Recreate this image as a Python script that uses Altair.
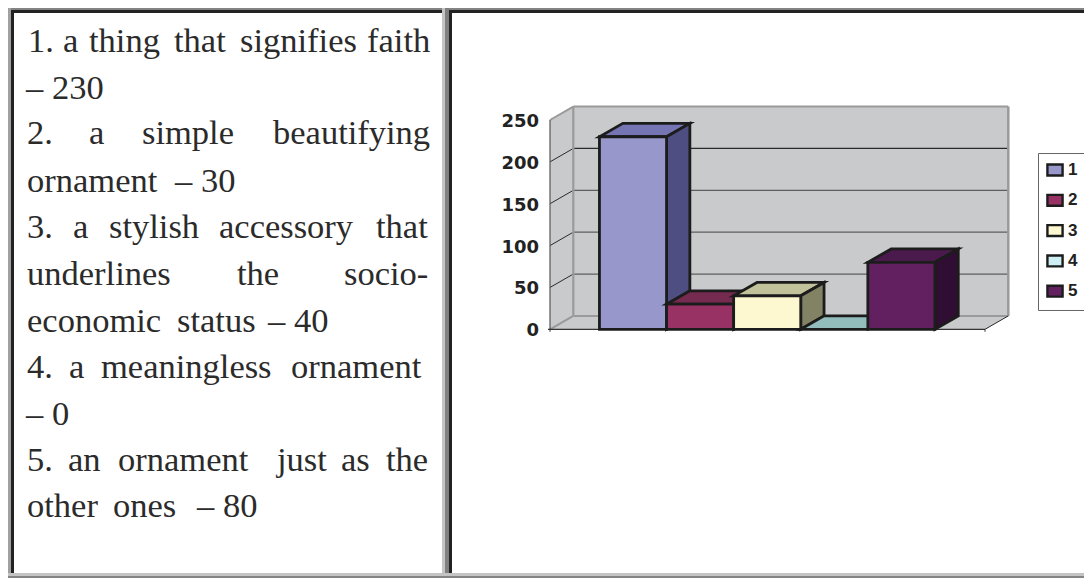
import altair as alt
import pandas as pd

# ---- values ----
series = ["1", "2", "3", "4", "5"]
values = [230, 30, 40, 0, 80]
front_fill = ["#9797cb", "#983265", "#fdf8cf", "#cdeff3", "#632060"]
top_fill = ["#7575b4", "#752a50", "#c2c29b", "#93bcbc", "#4a1a4c"]
side_fill = ["#4e4e82", "#5c2040", "#828265", "#6f9090", "#300e33"]
y_ticks = [0, 50, 100, 150, 200, 250]

text_rows = [
    (52, [(28, "1."), (63, "a"), (89, "thing"), (174, "that"), (240, "signifies"), (367, "faith")]),
    (99, [(26, "– 230")]),
    (144, [(27, "2."), (89, "a"), (142, "simple"), (273, "beautifying")]),
    (192, [(27, "ornament"), (175, "– 30")]),
    (238, [(27, "3."), (73, "a"), (109, "stylish"), (219, "accessory"), (376, "that")]),
    (285, [(27, "underlines"), (237, "the"), (344, "socio-")]),
    (332, [(27, "economic"), (177, "status"), (268, "– 40")]),
    (378, [(27, "4."), (69, "a"), (101, "meaningless"), (291, "ornament")]),
    (425, [(26, "– 0")]),
    (471, [(27, "5."), (68, "an"), (118, "ornament"), (277, "just"), (341, "as"), (386, "the")]),
    (517, [(27, "other"), (113, "ones"), (197, "– 80")]),
]

# ---- scale geometry: page px <-> data units ----
PX_PER_CAT = 67.1
PX_PER_VAL = 0.8372
CAT1_PX = 633.0
ZERO_PX = 329.3
W, H = 1076, 570


def xu(px):
    return (px - CAT1_PX) / PX_PER_CAT + 1


def yu(py):
    return (ZERO_PX - py) / PX_PER_VAL


xscale = alt.Scale(domain=[xu(8), xu(8 + W)], range=[0, W], nice=False, zero=False)
yscale = alt.Scale(domain=[yu(8 + H), yu(8)], range=[H, 0], nice=False, zero=False)
X = alt.X("x:Q", scale=xscale, axis=None, title=None)
Y = alt.Y("y:Q", scale=yscale, axis=None, title=None)
X2 = alt.X2("x2:Q")
Y2 = alt.Y2("y2:Q")

DX = 23.3 / PX_PER_CAT
DY = 13.4 / PX_PER_VAL
LEFT = xu(550)
RIGHT = xu(985)
TOP = 250
layers = []


def rect(px0, py0, px1, py1, color):
    d = pd.DataFrame({"x": [xu(max(px0, 8))], "x2": [xu(min(px1, 8 + W))],
                      "y": [yu(max(py0, 8))], "y2": [yu(min(py1, 8 + H))]})
    return alt.Chart(d).mark_rect(color=color).encode(x=X, x2=X2, y=Y, y2=Y2)


def seg(x0, y0, x1, y1, color, w):
    d = pd.DataFrame({"x": [x0], "x2": [x1], "y": [y0], "y2": [y1]})
    return alt.Chart(d).mark_rule(color=color, strokeWidth=w).encode(x=X, x2=X2, y=Y, y2=Y2)


# ---- frame ----
FR = [
    (0, 4, 1092, 7, "#c4c4c4"), (0, 7, 1092, 10, "#848484"), (0, 10, 1092, 13, "#222222"),
    (5, 4, 11, 578, "#a0a0a0"), (11, 10, 14, 573, "#222222"),
    (442, 7, 445, 576, "#c4c4c4"), (445, 7, 449, 578, "#808080"), (449, 10, 452, 573, "#222222"),
    (0, 573, 1092, 576, "#c4c4c4"), (0, 576, 1092, 578, "#848484"),
]
for f in FR:
    layers.append(rect(*f))

# ---- walls and floor ----
WALL = "#c9cacc"
layers.append(alt.Chart(pd.DataFrame({"x": [LEFT + DX], "x2": [RIGHT + DX], "y": [DY], "y2": [TOP + DY]}))
              .mark_rect(color=WALL).encode(x=X, x2=X2, y=Y, y2=Y2))
layers.append(alt.Chart(pd.DataFrame({"x": [LEFT, LEFT + DX], "y": [0, DY], "y2": [TOP, TOP + DY]}))
              .mark_area(color=WALL, orient="vertical").encode(x=X, y=Y, y2=Y2))
layers.append(alt.Chart(pd.DataFrame({"y": [0, DY], "x": [LEFT, LEFT + DX], "x2": [RIGHT, RIGHT + DX]}))
              .mark_area(color=WALL, orient="horizontal").encode(y=Y, x=X, x2=X2))

for v in y_ticks[1:-1]:
    col = "#2a2a2a" if v == 200 else "#5e5e5e"
    layers.append(seg(LEFT + DX, v + DY, RIGHT + DX, v + DY, col, 1.3))
    layers.append(seg(LEFT, v, LEFT + DX, v + DY, "#2a2a2a", 1))
BORDER = "#9a9a9a"
layers.append(seg(LEFT + DX, DY, RIGHT + DX, DY, BORDER, 2))
layers.append(seg(LEFT + DX, TOP + DY, RIGHT + DX, TOP + DY, BORDER, 2))
layers.append(seg(LEFT + DX, DY, LEFT + DX, TOP + DY, BORDER, 2.2))
layers.append(seg(RIGHT + DX, DY, RIGHT + DX, TOP + DY, BORDER, 2.5))
layers.append(seg(LEFT, TOP, LEFT + DX, TOP + DY, BORDER, 2))
layers.append(seg(LEFT, 0, LEFT + DX, DY, BORDER, 2))
layers.append(seg(RIGHT, 0, RIGHT + DX, DY, "#2a2a2a", 1))
layers.append(seg(LEFT, -3, LEFT, TOP, "#555555", 1.2))
layers.append(seg(RIGHT, -3, RIGHT, 0, "#555555", 1.2))
layers.append(seg(LEFT - 0.03, 0, RIGHT, 0, "#333333", 1.2))

# ---- bars ----
EDGE = "#1c1c1c"
SW = 2.8
color_scale = alt.Scale(domain=series, range=front_fill)
legend = alt.Legend(
    orient="none", legendX=1038 - 8, legendY=153 - 8, title=None,
    symbolType="M-1,-0.72H1V0.72H-1Z", symbolSize=230, symbolStrokeWidth=2.4,
    symbolStrokeColor=EDGE, symbolOpacity=1, strokeColor="#666666", fillColor="#ffffff",
    padding=8, rowPadding=8.3, labelFont="Liberation Sans", labelFontWeight="bold",
    labelFontSize=17, labelColor="#222222", labelOffset=4, symbolOffset=0,
)
for i, (s, v) in enumerate(zip(series, values), start=1):
    l, r = i - 0.5, i + 0.5
    top = pd.DataFrame({"y": [v, v + DY], "x": [l, l + DX], "x2": [r, r + DX]})
    layers.append(alt.Chart(top).mark_area(color=top_fill[i - 1], orient="horizontal", stroke=EDGE,
                                           strokeWidth=SW, strokeJoin="miter").encode(y=Y, x=X, x2=X2))
    if v > 0:
        side = pd.DataFrame({"x": [r, r + DX], "y": [0, DY], "y2": [v, v + DY]})
        layers.append(alt.Chart(side).mark_area(color=side_fill[i - 1], orient="vertical", stroke=EDGE,
                                                strokeWidth=SW, strokeJoin="miter").encode(x=X, y=Y, y2=Y2))
        front = pd.DataFrame({"x": [l], "x2": [r], "y": [0], "y2": [v], "series": [s]})
        layers.append(alt.Chart(front).mark_rect(stroke=EDGE, strokeWidth=SW, strokeJoin="miter", opacity=1).encode(
            x=X, x2=X2, y=Y, y2=Y2,
            fill=alt.Fill("series:N", scale=color_scale, legend=legend),
        ))

# a layer that carries every legend entry
legend_df = pd.DataFrame({"x": [LEFT] * 5, "x2": [LEFT] * 5, "y": [0] * 5, "y2": [0] * 5, "series": series})
layers.append(alt.Chart(legend_df).mark_rect(opacity=1, strokeWidth=0).encode(
    x=X, x2=X2, y=Y, y2=Y2, fill=alt.Fill("series:N", scale=color_scale, legend=legend)))

# ---- y tick labels ----
layers.append(alt.Chart(pd.DataFrame({"y": y_ticks, "x": [xu(539)] * 6, "t": [str(t) for t in y_ticks]}))
              .mark_text(font="DejaVu Sans", fontWeight="bold", fontSize=18, align="right", baseline="middle",
                         dy=2, color="#222222").encode(x=X, y=Y, text="t:N"))

# ---- left text ----
rows = [{"x": xu(px), "y": yu(base), "t": w} for base, words in text_rows for px, w in words]
layers.append(alt.Chart(pd.DataFrame(rows))
              .mark_text(font="Liberation Serif", fontSize=34.5, align="left", baseline="alphabetic",
                         color="#2b2b2b").encode(x=X, y=Y, text="t:N"))

chart = alt.layer(*layers).properties(
    width=W, height=H, padding=0, autosize=alt.AutoSizeParams(type="none"), background="#ffffff"
).configure_view(stroke=None)

chart.save("out.html", embed_options={"renderer": "svg", "actions": False})
